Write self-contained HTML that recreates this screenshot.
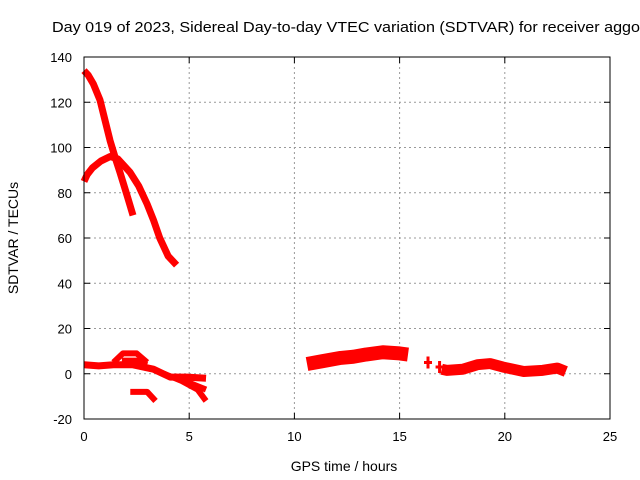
<!DOCTYPE html>
<html><head><meta charset="utf-8"><style>
body{margin:0;background:#fff;}
svg{display:block;font-family:"Liberation Sans",sans-serif;}
</style></head><body>
<svg width="640" height="480" id="chart">
<text x="52" y="32" font-size="14.5" textLength="588" lengthAdjust="spacingAndGlyphs">Day 019 of 2023, Sidereal Day-to-day VTEC variation (SDTVAR) for receiver aggo</text>
<text x="344" y="471" font-size="14" text-anchor="middle">GPS time / hours</text>
<text transform="translate(18,238) rotate(-90)" font-size="14" text-anchor="middle">SDTVAR / TECUs</text>
<g id="grid"></g><g id="marks"></g>
<rect x="84" y="57" width="526" height="362" fill="none" stroke="#000" stroke-width="1"/>
</svg>
<script>
const xTicks=[0,5,10,15,20,25];
const yTicks=[-20,0,20,40,60,80,100,120,140];
const seriesA=[[0,134],[0.2,132],[0.45,128],[0.76,121],[1.0,112],[1.24,103],[1.5,95],[1.71,89],[2.04,79],[2.33,70]];
const seriesB=[[0,85],[0.15,88],[0.4,91],[0.8,94],[1.24,96],[1.6,95],[1.9,92],[2.19,89],[2.6,83],[3.0,75],[3.3,68],[3.6,60],[4.0,52],[4.4,48]];
const seriesC=[[0,4],[0.7,3.5],[1.4,4],[2.3,4],[3.3,2],[4.1,-1.5],[4.9,-1.5],[5.8,-2]];
const seriesD=[[1.4,5],[1.85,9],[2.5,9],[3.0,5]];
const seriesE=[[1.8,6],[2.5,6],[3.0,4]];
const seriesF=[[2.2,-8],[3.0,-8],[3.4,-12]];
const seriesG=[[3.8,0],[4.6,-3],[5.4,-7],[5.8,-12]];
const seriesH=[[4.3,-1],[5.0,-4],[5.8,-7]];
const seriesI=[[10.6,4.3],[11.3,5.5],[12.2,7],[12.8,7.5],[13.4,8.5],[14.2,9.5],[15.0,9],[15.4,8.5]];
const seriesJ=[[17.0,2],[17.25,1.5],[18,2],[18.7,4],[19.3,4.5],[19.9,3],[20.9,1],[21.8,1.5],[22.5,2.5],[22.9,1]];
const seriesK=[[16.35,5],[16.9,3]];
const xS=v=>84+v*526/25, yS=v=>373.75-v*2.2625;
const NS="http://www.w3.org/2000/svg";
const svg=document.getElementById('chart'),grid=document.getElementById('grid'),marks=document.getElementById('marks');
function mk(t,a,p){const e=document.createElementNS(NS,t);for(const k in a)e.setAttribute(k,a[k]);p.appendChild(e);return e;}
xTicks.forEach(t=>{const x=xS(t);
 if(t>0&&t<25){const l=mk('line',{x1:x,x2:x,y1:57,y2:419,stroke:'#999','stroke-dasharray':'2,3'},grid);
 
 }
 const tx=mk('text',{x:x,y:441,'font-size':13,'text-anchor':'middle'},svg);tx.textContent=t;
 
 
 mk('line',{x1:x,x2:x,y1:419,y2:413,stroke:'#000'},svg);mk('line',{x1:x,x2:x,y1:57,y2:63,stroke:'#000'},svg);});
yTicks.forEach(t=>{const y=yS(t);
 if(t>-20&&t<140){const l=mk('line',{x1:84,x2:610,y1:y,y2:y,stroke:'#999','stroke-dasharray':'2,3'},grid);
 
 }
 const tx=mk('text',{x:72,y:y+5,'font-size':13,'text-anchor':'end'},svg);tx.textContent=t;
 
 
 mk('line',{x1:84,x2:90,y1:y,y2:y,stroke:'#000'},svg);mk('line',{x1:610,x2:604,y1:y,y2:y,stroke:'#000'},svg);});
function line(d,w,name){const p=mk('polyline',{points:d.map(q=>xS(q[0])+','+yS(q[1])).join(' '),fill:'none',stroke:'#f00','stroke-width':w,'stroke-linejoin':'round'},marks);
 
 }
line(seriesA,7,'series-a');line(seriesB,7,'series-b');line(seriesC,7,'series-c');line(seriesD,6,'series-d');
line(seriesE,5,'series-e');line(seriesF,6,'series-f');line(seriesG,6,'series-g');line(seriesH,6,'series-h');
line(seriesI,14,'series-i');line(seriesJ,11,'series-j');
seriesK.forEach(q=>{const x=xS(q[0]),y=yS(q[1]);
 const g=mk('path',{d:`M${x-4},${y}H${x+4}M${x},${y-6}V${y+6}`,stroke:'#f00','stroke-width':3},marks);
 
 });
</script>
</body></html>
